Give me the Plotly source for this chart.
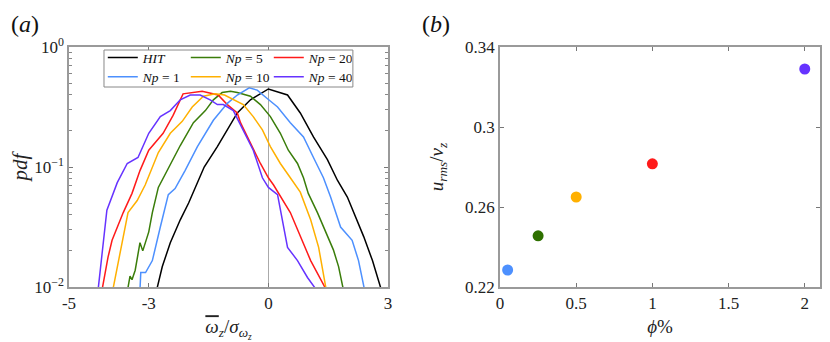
import plotly.graph_objects as go

# ── panel (a): pdf of normalised vertical vorticity ──
hit_x = [-2.8, -2.66, -2.46, -2.21, -2.0, -1.78, -1.61, -1.28, -0.78, -0.45, 0.0,
         0.48, 0.8, 1.13, 1.48, 1.73, 1.98, 2.39, 2.61, 2.83]
hit_y = [0.0095, 0.0148, 0.0234, 0.0363, 0.0501, 0.0741, 0.1, 0.148, 0.282, 0.363, 0.447,
         0.398, 0.282, 0.178, 0.115, 0.0776, 0.0562, 0.0263, 0.0166, 0.0095]

np1_x = [-3.22, -3.2, -3.08, -2.91, -2.71, -2.51, -2.34, -2.09, -1.78, -1.38, -1.03, -0.78,
         -0.48, -0.28, -0.03, 0.23, 0.55, 0.88, 1.13, 1.38, 1.56, 1.81, 2.1, 2.26, 2.41]
np1_y = [0.0095, 0.0132, 0.0132, 0.0166, 0.0316, 0.0589, 0.0661, 0.0933, 0.148, 0.245, 0.339, 0.398,
         0.457, 0.437, 0.372, 0.316, 0.234, 0.178, 0.120, 0.0813, 0.0562, 0.0316, 0.0245, 0.0166, 0.0095]

np5_x = [-3.53, -3.47, -3.42, -3.34, -3.22, -3.15, -3.0, -2.91, -2.76, -2.54, -2.21, -1.88, -1.58,
         -1.38, -1.16, -0.95, -0.78, -0.45, -0.2, 0.05, 0.3, 0.5, 0.73, 0.88, 1.0, 1.23, 1.48,
         1.63, 1.76, 1.88]
np5_y = [0.0095, 0.0123, 0.0115, 0.0138, 0.0234, 0.0200, 0.0288, 0.0417, 0.0676, 0.0933, 0.151, 0.234, 0.295,
         0.363, 0.417, 0.427, 0.417, 0.389, 0.331, 0.263, 0.191, 0.138, 0.107, 0.0813, 0.0603, 0.0417, 0.0263,
         0.0204, 0.0148, 0.0095]

np10_x = [-3.9, -3.72, -3.52, -3.29, -3.09, -2.76, -2.46, -2.16, -1.91, -1.63, -1.33, -1.1, -0.88,
          -0.63, -0.38, -0.15, 0.05, 0.3, 0.55, 0.8, 1.06, 1.26, 1.45]
np10_y = [0.0095, 0.0191, 0.0417, 0.0525, 0.0708, 0.132, 0.191, 0.240, 0.316, 0.389, 0.407, 0.398, 0.363,
          0.331, 0.263, 0.204, 0.148, 0.107, 0.0813, 0.0617, 0.0363, 0.0214, 0.0095]

np20_x = [-4.17, -4.02, -3.92, -3.64, -3.42, -3.22, -3.0, -2.64, -2.39, -2.21, -2.14, -1.66, -1.26,
          -1.03, -0.78, -0.7, -0.45, -0.2, 0.0, 0.13, 0.55, 0.8, 1.06, 1.45]
np20_y = [0.0095, 0.0178, 0.0245, 0.0417, 0.0603, 0.0933, 0.138, 0.191, 0.269, 0.372, 0.407, 0.427, 0.398,
          0.331, 0.282, 0.234, 0.158, 0.107, 0.0813, 0.0708, 0.0417, 0.0263, 0.0166, 0.0095]

np40_x = [-4.27, -4.05, -3.79, -3.64, -3.54, -3.27, -3.0, -2.71, -2.46, -2.21, -1.96, -1.71, -1.46,
          -1.28, -1.13, -0.88, -0.63, -0.38, -0.15, 0.0, 0.23, 0.48, 0.73, 0.98, 1.2]
np40_y = [0.0095, 0.0437, 0.0741, 0.0933, 0.107, 0.120, 0.191, 0.263, 0.295, 0.363, 0.398, 0.398, 0.363,
          0.331, 0.331, 0.295, 0.204, 0.138, 0.0813, 0.0676, 0.0589, 0.0214, 0.0166, 0.0120, 0.0095]

# ── panel (b): u_rms / v_z against volume fraction ──
phi = [0.05, 0.25, 0.5, 1.0, 2.0]
urms = [0.2285, 0.2456, 0.265, 0.2816, 0.329]

C_HIT = "#000000"
C_NP1 = "#4D90FE"
C_NP5 = "#3A7D0A"
C_NP10 = "#FFB000"
C_NP20 = "#FF1A1A"
C_NP40 = "#6633FF"
dot_colors = [C_NP1, "#2E7000", C_NP10, C_NP20, C_NP40]

FONT = "Liberation Serif"
AXC = "#9a9a9a"

fig = go.Figure()

# legend rows: row 1 -> legend, row 2 -> legend2
curves = [
    ("<i>HIT</i>", hit_x, hit_y, C_HIT, "legend"),
    ("<i>Np</i> = 5", np5_x, np5_y, C_NP5, "legend"),
    ("<i>Np</i> = 20", np20_x, np20_y, C_NP20, "legend"),
    ("<i>Np</i> = 1", np1_x, np1_y, C_NP1, "legend2"),
    ("<i>Np</i> = 10", np10_x, np10_y, C_NP10, "legend2"),
    ("<i>Np</i> = 40", np40_x, np40_y, C_NP40, "legend2"),
]
for name, xs, ys, col, leg in curves:
    fig.add_trace(go.Scatter(
        x=xs, y=ys, mode="lines", name=name,
        line=dict(color=col, width=1.5),
        xaxis="x", yaxis="y", legend=leg,
    ))

fig.add_trace(go.Scatter(
    x=phi, y=urms, mode="markers",
    marker=dict(color=dot_colors, size=11),
    xaxis="x2", yaxis="y2", showlegend=False,
))

axis_common = dict(
    showline=True, linecolor=AXC, linewidth=1.5, mirror="allticks",
    ticks="inside", tickcolor="#777", ticklen=4, showgrid=False, automargin=False,
    tickfont=dict(family=FONT, size=17, color="#222"),
)

leg_common = dict(
    orientation="h", xanchor="left", yanchor="top",
    bgcolor="rgba(0,0,0,0)", borderwidth=0,
    font=dict(family=FONT, size=13.5, color="#111"),
    itemwidth=30, entrywidth=38, entrywidthmode="pixels",
    tracegroupgap=0,
)

minor_log = [m * d for d in (0.01, 0.1) for m in range(2, 10)]

# the page body adds an 8 px offset, so the figure is drawn 8 px smaller
fig.update_layout(
    width=822, height=334,
    margin=dict(l=61, r=10, t=39, b=55),
    paper_bgcolor="white", plot_bgcolor="white",
    showlegend=True,
    xaxis=dict(
        domain=[0.0, 0.4248], range=[-5, 3],
        tickvals=[-5, -3, 0, 3], ticktext=["-5", "-3", "0", "3"],
        zeroline=True, zerolinecolor="#aaaaaa", zerolinewidth=1,
        title=dict(text='<span style="text-decoration:overline"><i>ω</i></span><sub><i>z</i></sub>/<i>σ</i><sub><i>ω<sub>z</sub></i></sub>',
                   font=dict(family=FONT, size=19, color="#222"), standoff=10),
        **axis_common,
    ),
    yaxis=dict(
        domain=[0.0, 1.0], type="log", range=[-2, 0],
        tickvals=[0.01, 0.1, 1], ticktext=["10<sup>−2</sup>", "10<sup>−1</sup>", "10<sup>0</sup>"],
        minor=dict(ticks="inside", ticklen=3, tickcolor="#888", showgrid=False, tickvals=minor_log),
        zeroline=False,
        title=dict(text="<i>pdf</i>", font=dict(family=FONT, size=21, color="#222"), standoff=12),
        **axis_common,
    ),
    xaxis2=dict(
        domain=[0.5739, 1.0], range=[0, 2.1],
        tickvals=[0, 0.5, 1, 1.5, 2], ticktext=["0", "0.5", "1", "1.5", "2"],
        zeroline=False, anchor="y2",
        title=dict(text="<i>ϕ</i>%", font=dict(family=FONT, size=19, color="#222"), standoff=8),
        **axis_common,
    ),
    yaxis2=dict(
        domain=[0.0, 1.0], range=[0.22, 0.34],
        tickvals=[0.22, 0.26, 0.3, 0.34], ticktext=["0.22", "0.26", "0.3", "0.34"],
        zeroline=False, anchor="x2",
        title=dict(text="<i>u</i><sub><i>rms</i></sub>/<i>v</i><sub><i>z</i></sub>",
                   font=dict(family=FONT, size=19, color="#222"), standoff=16),
        **axis_common,
    ),
    legend=dict(x=0.045, y=1.02, **leg_common),
    legend2=dict(x=0.045, y=0.94, **leg_common),
    shapes=[dict(type="rect", xref="paper", yref="paper",
                 x0=0.0466, x1=0.378, y0=0.8333, y1=0.9875,
                 line=dict(color="#888", width=1), fillcolor="white", layer="above")],
    annotations=[
        dict(text="(<i>a</i>)", xref="paper", yref="paper", x=-0.0805, y=1.158,
             xanchor="left", yanchor="top", showarrow=False,
             font=dict(family=FONT, size=24, color="#111")),
        dict(text="(<i>b</i>)", xref="paper", yref="paper", x=0.4674, y=1.158,
             xanchor="left", yanchor="top", showarrow=False,
             font=dict(family=FONT, size=24, color="#111")),
    ],
)

fig.write_html("out.html")
